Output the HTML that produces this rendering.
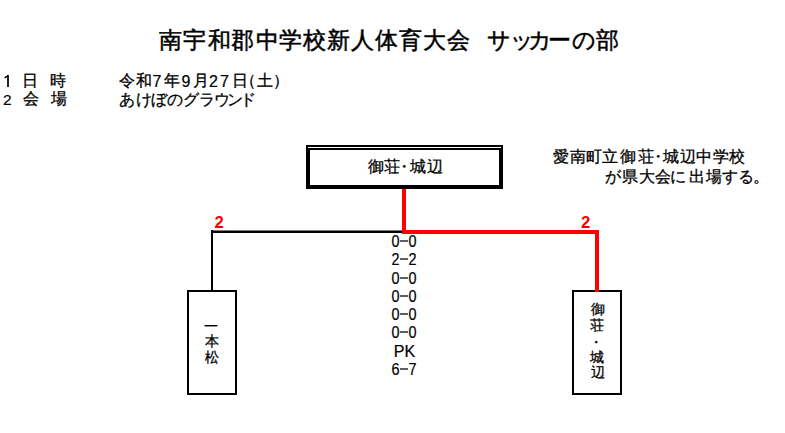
<!DOCTYPE html>
<html lang="ja"><head><meta charset="utf-8"><title>南宇和郡中学校新人体育大会 サッカーの部</title>
<style>
html,body{margin:0;padding:0;background:#fff;}
body{width:785px;height:433px;position:relative;overflow:hidden;font-family:"Liberation Sans",sans-serif;color:#000;}
span{position:absolute;line-height:1;white-space:pre;}
.j{-webkit-text-stroke-width:0.3px;}
.t{-webkit-text-stroke-width:0.5px;}
.l{-webkit-text-stroke-width:0.2px;}
.b{position:absolute;background:#000;}
.r{position:absolute;background:#f00;}
.dash{position:absolute;left:400px;width:8px;height:2px;background:#606060;}
.box{position:absolute;box-sizing:border-box;border:2px solid #000;background:#fff;}
</style></head><body>
<svg style="position:absolute;left:0;top:0" width="20" height="100"><path d="M8 75V87" stroke="#000" stroke-width="1.7" fill="none"/><path d="M8.2 75.6L4.6 77.9" stroke="#000" stroke-width="1.5" fill="none"/></svg>
<!-- top winner box -->
<div class="box" style="left:306px;top:145px;width:197px;height:44px;border-width:5px 4px 4px 4px;"></div>
<div style="position:absolute;left:308px;top:147px;width:193px;height:1px;background:#fff;"></div>
<!-- red path -->
<div class="r" style="left:402px;top:189px;width:4px;height:45px;"></div>
<div class="r" style="left:402px;top:230px;width:197px;height:4px;"></div>
<div class="r" style="left:595px;top:230px;width:4px;height:62px;"></div>
<!-- black path -->
<div class="b" style="left:211px;top:230px;width:191px;height:1px;background:#7a7a7a;"></div>
<div class="b" style="left:211px;top:231px;width:191px;height:2px;"></div>
<div class="b" style="left:211px;top:230px;width:2px;height:61px;"></div>
<!-- team boxes -->
<div class="box" style="left:187px;top:290px;width:50px;height:105px;"></div>
<div class="box" style="left:572px;top:290px;width:50px;height:105px;"></div>
<div class="r" style="left:595px;top:290px;width:4px;height:2px;"></div>
<div class="dash" style="top:240px"></div><div class="dash" style="top:258px"></div><div class="dash" style="top:277px"></div><div class="dash" style="top:295px"></div><div class="dash" style="top:313px"></div><div class="dash" style="top:331px"></div><div class="dash" style="top:368px"></div>
<span class="j t" style="left:159.0px;top:30.2px;font-size:22.5px">南</span><span class="j t" style="left:182.5px;top:30.2px;font-size:22.5px">宇</span><span class="j t" style="left:207.5px;top:30.2px;font-size:22.5px">和</span><span class="j t" style="left:230.5px;top:30.2px;font-size:22.5px">郡</span><span class="j t" style="left:255.5px;top:30.2px;font-size:22.5px">中</span><span class="j t" style="left:279.0px;top:30.2px;font-size:22.5px">学</span><span class="j t" style="left:303.0px;top:30.2px;font-size:22.5px">校</span><span class="j t" style="left:327.0px;top:30.2px;font-size:22.5px">新</span><span class="j t" style="left:350.5px;top:30.2px;font-size:22.5px">人</span><span class="j t" style="left:375.0px;top:30.2px;font-size:22.5px">体</span><span class="j t" style="left:399.0px;top:30.2px;font-size:22.5px">育</span><span class="j t" style="left:422.5px;top:30.2px;font-size:22.5px">大</span><span class="j t" style="left:446.5px;top:30.2px;font-size:22.5px">会</span><span class="j t" style="left:486.8px;top:30.2px;font-size:22.5px">サ</span><span class="j t" style="left:509.5px;top:30.2px;font-size:22.5px">ッ</span><span class="j t" style="left:527.5px;top:30.2px;font-size:22.5px">カ</span><span class="j t" style="left:548.3px;top:30.2px;font-size:22.5px">ー</span><span class="j t" style="left:571.9px;top:30.2px;font-size:22.5px">の</span><span class="j t" style="left:596.3px;top:30.2px;font-size:22.5px">部</span><span class="j" style="left:22.2px;top:73.1px;font-size:15.5px">日</span><span class="j" style="left:50.2px;top:73.1px;font-size:15.5px">時</span><span class="j" style="left:23.2px;top:91.1px;font-size:15.5px">会</span><span class="j" style="left:50.6px;top:91.1px;font-size:15.5px">場</span><span class="j" style="left:119.1px;top:73.1px;font-size:15.5px">令</span><span class="j" style="left:135.6px;top:73.1px;font-size:15.5px">和</span><span class="j" style="left:164.0px;top:73.1px;font-size:15.5px">年</span><span class="j" style="left:192.8px;top:73.1px;font-size:15.5px">月</span><span class="j" style="left:231.8px;top:73.1px;font-size:15.5px">日</span><span class="j" style="left:240.0px;top:73.1px;font-size:15.5px">（</span><span class="j" style="left:256.7px;top:73.1px;font-size:15.5px">土</span><span class="j" style="left:272.6px;top:73.1px;font-size:15.5px">）</span><span class="j" style="left:119.0px;top:91.8px;font-size:15.5px">あ</span><span class="j" style="left:135.8px;top:91.8px;font-size:15.5px">け</span><span class="j" style="left:151.1px;top:91.8px;font-size:15.5px">ぼ</span><span class="j" style="left:167.1px;top:91.8px;font-size:15.5px">の</span><span class="j" style="left:182.7px;top:91.8px;font-size:15.5px">グ</span><span class="j" style="left:199.3px;top:91.8px;font-size:15.5px">ラ</span><span class="j" style="left:213.5px;top:91.8px;font-size:15.5px">ウ</span><span class="j" style="left:227.1px;top:91.8px;font-size:15.5px">ン</span><span class="j" style="left:239.5px;top:91.8px;font-size:15.5px">ド</span><span class="l" style="left:2.9px;top:92.2px;font-size:15.5px">2</span><span class="l" style="left:152.4px;top:74.1px;font-size:16px">7</span><span class="l" style="left:181.4px;top:74.1px;font-size:16px">9</span><span class="l" style="left:209.0px;top:74.1px;font-size:16px">2</span><span class="l" style="left:219.9px;top:74.1px;font-size:16px">7</span><span class="j" style="left:367.7px;top:159.4px;font-size:15.5px">御</span><span class="j" style="left:384.1px;top:159.4px;font-size:15.5px">荘</span><span class="j" style="left:395.5px;top:159.4px;font-size:15.5px">・</span><span class="j" style="left:409.9px;top:159.4px;font-size:15.5px">城</span><span class="j" style="left:427.3px;top:159.4px;font-size:15.5px">辺</span><span class="j" style="left:552.8px;top:149.2px;font-size:15.5px">愛</span><span class="j" style="left:569.5px;top:149.2px;font-size:15.5px">南</span><span class="j" style="left:585.8px;top:149.2px;font-size:15.5px">町</span><span class="j" style="left:602.4px;top:149.2px;font-size:15.5px">立</span><span class="j" style="left:619.8px;top:149.2px;font-size:15.5px">御</span><span class="j" style="left:637.9px;top:149.2px;font-size:15.5px">荘</span><span class="j" style="left:650.3px;top:149.2px;font-size:15.5px">・</span><span class="j" style="left:662.6px;top:149.2px;font-size:15.5px">城</span><span class="j" style="left:679.5px;top:149.2px;font-size:15.5px">辺</span><span class="j" style="left:696.0px;top:149.2px;font-size:15.5px">中</span><span class="j" style="left:712.5px;top:149.2px;font-size:15.5px">学</span><span class="j" style="left:728.9px;top:149.2px;font-size:15.5px">校</span><span class="j" style="left:604.7px;top:168.9px;font-size:15.5px">が</span><span class="j" style="left:621.9px;top:168.9px;font-size:15.5px">県</span><span class="j" style="left:638.7px;top:168.9px;font-size:15.5px">大</span><span class="j" style="left:654.5px;top:168.9px;font-size:15.5px">会</span><span class="j" style="left:670.3px;top:168.9px;font-size:15.5px">に</span><span class="j" style="left:688.8px;top:168.9px;font-size:15.5px">出</span><span class="j" style="left:705.8px;top:168.9px;font-size:15.5px">場</span><span class="j" style="left:722.0px;top:168.9px;font-size:15.5px">す</span><span class="j" style="left:738.0px;top:168.9px;font-size:15.5px">る</span><span class="j" style="left:752.8px;top:168.9px;font-size:15.5px">。</span><span class="j" style="left:205.2px;top:334.1px;font-size:14px">本</span><span class="j" style="left:204.7px;top:350.3px;font-size:14px">松</span><span class="j" style="left:204.4px;top:318.8px;font-size:14px">一</span><span class="j" style="left:590.5px;top:302.4px;font-size:14px">御</span><span class="j" style="left:590.0px;top:317.6px;font-size:14px">荘</span><span class="j" style="left:589.4px;top:334.7px;font-size:14px">・</span><span class="j" style="left:590.0px;top:350.0px;font-size:14px">城</span><span class="j" style="left:590.5px;top:365.4px;font-size:14px">辺</span><span style="left:214.5px;top:215.0px;font-size:16.8px;color:#ff0000;font-weight:bold">2</span><span style="left:581.1px;top:214.7px;font-size:16.8px;color:#ff0000;font-weight:bold">2</span><span class="l" style="left:391.3px;top:234.0px;font-size:16px;transform:scaleX(0.9);transform-origin:4.5px 50%">0</span><span class="l" style="left:408.1px;top:234.0px;font-size:16px;transform:scaleX(0.9);transform-origin:4.5px 50%">0</span><span class="l" style="left:390.8px;top:252.2px;font-size:16px;transform:scaleX(0.9);transform-origin:5.0px 50%">2</span><span class="l" style="left:407.6px;top:252.2px;font-size:16px;transform:scaleX(0.9);transform-origin:5.0px 50%">2</span><span class="l" style="left:391.3px;top:270.8px;font-size:16px;transform:scaleX(0.9);transform-origin:4.5px 50%">0</span><span class="l" style="left:408.1px;top:270.8px;font-size:16px;transform:scaleX(0.9);transform-origin:4.5px 50%">0</span><span class="l" style="left:391.3px;top:288.9px;font-size:16px;transform:scaleX(0.9);transform-origin:4.5px 50%">0</span><span class="l" style="left:408.1px;top:288.9px;font-size:16px;transform:scaleX(0.9);transform-origin:4.5px 50%">0</span><span class="l" style="left:391.3px;top:307.2px;font-size:16px;transform:scaleX(0.9);transform-origin:4.5px 50%">0</span><span class="l" style="left:408.1px;top:307.2px;font-size:16px;transform:scaleX(0.9);transform-origin:4.5px 50%">0</span><span class="l" style="left:391.3px;top:324.9px;font-size:16px;transform:scaleX(0.9);transform-origin:4.5px 50%">0</span><span class="l" style="left:408.1px;top:324.9px;font-size:16px;transform:scaleX(0.9);transform-origin:4.5px 50%">0</span><span class="l" style="left:393.8px;top:344.2px;font-size:16px">PK</span><span class="l" style="left:390.8px;top:362.3px;font-size:16px;transform:scaleX(0.9);transform-origin:5.0px 50%">6</span><span class="l" style="left:407.6px;top:362.3px;font-size:16px;transform:scaleX(0.9);transform-origin:5.0px 50%">7</span>
</body></html>
